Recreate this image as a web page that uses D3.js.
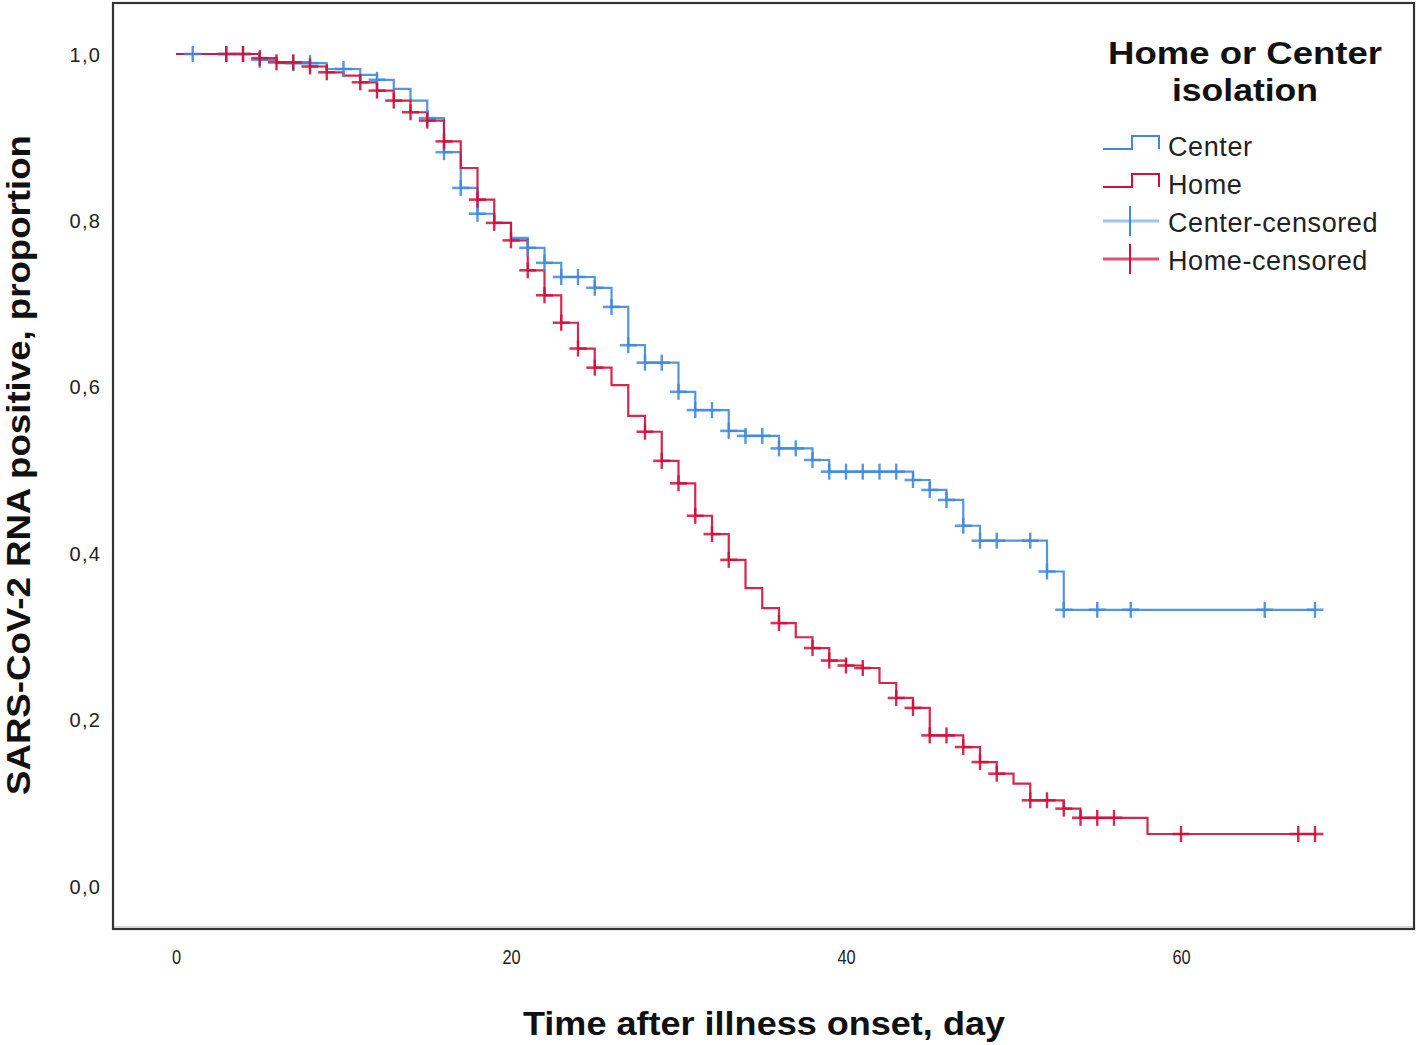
<!DOCTYPE html>
<html><head><meta charset="utf-8">
<script src="https://cdn.jsdelivr.net/npm/d3@7"></script>
<style>
html,body{margin:0;padding:0;background:#fff;}
svg{display:block;}
</style></head>
<body>
<script>
// ---- data ----
const centerDays = [0,5,6,9,11,12,13,14,15,16,17,18,19,20,21,22,23,25,26,27,28,30,31,33,34,36,38,39,44,45,46,47,48,52,53];
const centerSurv = [1,0.993,0.989,0.982,0.975,0.969,0.958,0.944,0.923,0.882,0.839,0.808,0.797,0.779,0.767,0.749,0.732,0.719,0.696,0.650,0.629,0.594,0.572,0.547,0.541,0.526,0.512,0.498,0.488,0.476,0.464,0.433,0.415,0.378,0.332];
const centerEnd = 68;
const centerCensored = [1,3,4,5,7,8,10,12,15,16,17,18,21,22,23,24,25,26,27,28,29,30,31,32,33,34,35,36,37,38,39,40,41,42,43,44,45,46,47,48,49,51,52,53,55,57,65,68];

const homeDays = [0,5,6,8,9,10,11,12,13,14,15,16,17,18,19,20,21,22,23,24,25,26,27,28,29,30,31,32,33,34,35,36,37,38,39,40,41,42,43,44,45,47,48,49,50,51,53,54,58];
const homeSurv = [1,0.995,0.99,0.985,0.978,0.974,0.966,0.956,0.944,0.93,0.92,0.895,0.863,0.825,0.797,0.776,0.740,0.710,0.677,0.646,0.623,0.602,0.565,0.546,0.511,0.484,0.445,0.423,0.392,0.358,0.334,0.316,0.299,0.286,0.271,0.265,0.262,0.244,0.226,0.214,0.181,0.167,0.149,0.135,0.123,0.103,0.093,0.082,0.0625];
const homeEnd = 68;
const homeCensored = [3,4,5,6,7,8,9,11,12,13,14,15,16,18,19,20,21,22,23,24,25,28,29,30,31,32,33,36,38,39,40,41,43,44,45,46,47,48,49,51,52,53,54,55,56,60,67,68];

const xTicks = [0,20,40,60];
const yTicks = [0,0.2,0.4,0.6,0.8,1.0];
const legendLabels = ["Center","Home","Center-censored","Home-censored"];
const legendTitle = ["Home or Center","isolation"];
const xTitle = "Time after illness onset, day";
const yTitle = "SARS-CoV-2 RNA positive, proportion";

// ---- styling ----
const W = 1418, H = 1045;
const blue = "#4189dd", red = "#d2103b", lightBlue = "#9fc4ee";

const svg = d3.select("body").append("svg").attr("width", W).attr("height", H);

const x = d3.scaleLinear().domain([0,60]).range([176,1181]);
const y = d3.scaleLinear().domain([0,1]).range([886,54]);

// frame
svg.append("rect").attr("x",113).attr("y",3).attr("width",1301).attr("height",926)
  .attr("fill","#fff").attr("stroke","#333").attr("stroke-width",2.2);
svg.append("line").attr("x1",114).attr("x2",1413).attr("y1",927).attr("y2",927)
  .attr("stroke","#bbb").attr("stroke-width",1.2);

// axes (labels only, SPSS style)
const fmt = v => d3.format(".1f")(v).replace(".", ",");
const yAxis = d3.axisLeft(y).tickValues(yTicks).tickFormat(fmt).tickSize(0).tickPadding(0);
const gy = svg.append("g").attr("transform","translate(101,0)").call(yAxis);
gy.select(".domain").remove();
gy.selectAll("text").attr("font-family","'Liberation Sans',Arial,sans-serif")
  .attr("font-size",20).attr("fill","#222").attr("letter-spacing","1.2px").attr("dy","0.35em");

const xAxis = d3.axisBottom(x).tickValues(xTicks).tickFormat(d3.format("d")).tickSize(0).tickPadding(0);
const gx = svg.append("g").attr("transform","translate(0,957)").call(xAxis);
gx.select(".domain").remove();
gx.selectAll("text").attr("font-family","'Liberation Sans',Arial,sans-serif")
  .attr("font-size",21).attr("fill","#222").attr("dy","0.35em").attr("y",0)
  .attr("transform","scale(0.78,1)");

// titles
svg.append("text").attr("x",764).attr("y",1035).attr("text-anchor","middle")
  .attr("font-family","'Liberation Sans Narrow','Liberation Sans',Arial,sans-serif")
  .attr("font-weight","bold").attr("font-size",34).attr("fill","#111")
  .attr("textLength",482).attr("lengthAdjust","spacingAndGlyphs").text(xTitle);

svg.append("text").attr("transform","translate(30,465) rotate(-90)").attr("text-anchor","middle")
  .attr("font-family","'Liberation Sans Narrow','Liberation Sans',Arial,sans-serif")
  .attr("font-weight","bold").attr("font-size",33).attr("fill","#111")
  .attr("textLength",660).attr("lengthAdjust","spacingAndGlyphs").text(yTitle);

// survival curves
function stepData(days, surv, end){
  const pts = days.map((d,i)=>[d, surv[i]]);
  pts.push([end, surv[surv.length-1]]);
  return pts;
}
function survAt(days, surv, t){
  let v = surv[0];
  for (let i=0;i<days.length;i++){ if (days[i] <= t) v = surv[i]; }
  return v;
}
const line = d3.line().x(d=>x(d[0])).y(d=>y(d[1])).curve(d3.curveStepAfter);

const groups = [
  {days:centerDays, surv:centerSurv, end:centerEnd, cens:centerCensored, color:blue},
  {days:homeDays, surv:homeSurv, end:homeEnd, cens:homeCensored, color:red}
];

groups.forEach(g=>{
  svg.append("path").datum(stepData(g.days,g.surv,g.end))
    .attr("d",line).attr("fill","none").attr("stroke",g.color)
    .attr("stroke-width",2.2).attr("stroke-opacity",0.9);
});
groups.forEach(g=>{
  const mk = svg.append("g").selectAll("g").data(g.cens).join("g")
    .attr("transform",d=>`translate(${x(d)},${y(survAt(g.days,g.surv,d))})`);
  mk.append("line").attr("x1",-8.5).attr("x2",8.5).attr("y1",0).attr("y2",0)
    .attr("stroke",g.color).attr("stroke-width",2.6).attr("stroke-opacity",0.85);
  mk.append("line").attr("x1",0).attr("x2",0).attr("y1",-8).attr("y2",8)
    .attr("stroke",g.color).attr("stroke-width",2.4).attr("stroke-opacity",0.9);
});

// legend
const lg = svg.append("g");
lg.selectAll("text.title").data(legendTitle).join("text").attr("class","title")
  .attr("x",1245).attr("y",(d,i)=>64+i*37).attr("text-anchor","middle")
  .attr("font-family","'Liberation Sans',Arial,sans-serif").attr("font-weight","bold")
  .attr("font-size",32).attr("fill","#111")
  .attr("textLength",(d,i)=>i===0?274:146).attr("lengthAdjust","spacingAndGlyphs")
  .text(d=>d);

const rowY = [146,184,222,260];
const legColors = [blue, red, blue, red];
lg.selectAll("text.item").data(legendLabels).join("text").attr("class","item")
  .attr("x",1168).attr("y",(d,i)=>rowY[i]+10)
  .attr("font-family","'Liberation Sans',Arial,sans-serif").attr("font-size",27)
  .attr("letter-spacing","0.6px").attr("fill","#222").text(d=>d);

[0,1].forEach(i=>{
  const cy = rowY[i];
  lg.append("path").attr("d",`M1103,${cy+3}H1132V${cy-10}H1159V${cy+3}`)
    .attr("fill","none").attr("stroke",legColors[i]).attr("stroke-width",2);
});
[2,3].forEach(i=>{
  const cy = rowY[i]-1;
  lg.append("line").attr("x1",1103).attr("x2",1159).attr("y1",cy).attr("y2",cy)
    .attr("stroke",i===2?lightBlue:"#e0506f").attr("stroke-width",3);
  lg.append("line").attr("x1",1130).attr("x2",1130).attr("y1",cy-15).attr("y2",cy+15)
    .attr("stroke",legColors[i]).attr("stroke-width",2);
});
</script>
</body></html>
